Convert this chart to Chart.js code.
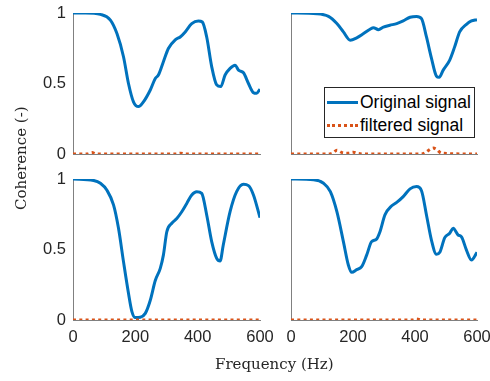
<!DOCTYPE html>
<html>
<head>
<meta charset="utf-8">
<script src="https://cdn.jsdelivr.net/npm/chart.js@4.4.1/dist/chart.umd.min.js"></script>
<style>
  body { margin: 0; background: #fff; width: 490px; height: 381px; overflow: hidden; position: relative; }
  canvas { position: absolute; }
  .lbl { position: absolute; font-family: "DejaVu Serif", serif; font-size: 15px; color: #262626; white-space: nowrap; }
  #legend { position: absolute; left: 324px; top: 87px; width: 149px; height: 49px; background: #fff;
            border: 1px solid #262626; font-family: "Liberation Sans", Arial, sans-serif; font-size: 17.5px; color: #000; }
  #legend .row { position: absolute; left: 2px; height: 22px; line-height: 22px; }
  #legend .swatch { position: absolute; left: 0; top: 10px; width: 31px; }
  #legend .txt { position: absolute; left: 33px; top: 0; white-space: nowrap; }
</style>
</head>
<body>
<canvas id="c1"></canvas>
<canvas id="c2"></canvas>
<canvas id="c3"></canvas>
<canvas id="c4"></canvas>
<div class="lbl" id="ylab" style="left:-29px; top:151px; transform: rotate(-90deg); width:100px; text-align:center;">Coherence (-)</div>
<div class="lbl" id="xlab" style="left:215px; top:355px;">Frequency (Hz)</div>
<div id="legend">
  <div class="row" style="top:3px;"><div class="swatch" style="border-top:3px solid #0072BD;"></div><span class="txt">Original signal</span></div>
  <div class="row" style="top:26px;"><div class="swatch" style="border-top:3px dotted #D95319;"></div><span class="txt">filtered signal</span></div>
</div>
<script>
// tick values
var xTicks = [0, 200, 400, 600];
var yTicks = [0, 0.5, 1];

// top left
var p1Freq = [0, 40, 88, 120, 141, 162, 178, 194, 210, 226, 248, 264, 274, 290, 306, 328, 344, 360, 381, 402, 415, 429, 445, 461, 474, 488, 504, 520, 531, 547, 563, 579, 589, 600];
var p1Orig = [1.0, 1.0, 0.99, 0.95, 0.854, 0.69, 0.50, 0.37, 0.336, 0.37, 0.454, 0.536, 0.56, 0.654, 0.748, 0.81, 0.83, 0.866, 0.925, 0.944, 0.936, 0.83, 0.62, 0.49, 0.478, 0.56, 0.607, 0.63, 0.595, 0.576, 0.50, 0.435, 0.43, 0.46];
var p1FiltFreq = [0, 45, 61, 75, 200, 330, 345, 360, 600];
var p1Filt = [0, 0, 0.01, 0, 0, 0, 0.006, 0, 0];

// top right
var p2Freq = [0, 84, 121, 148, 169, 191, 212, 234, 255, 266, 282, 298, 319, 341, 362, 384, 405, 421, 437, 453, 469, 478, 491, 512, 528, 544, 566, 582, 600];
var p2Orig = [1.0, 0.995, 0.976, 0.925, 0.866, 0.807, 0.824, 0.854, 0.885, 0.896, 0.882, 0.90, 0.913, 0.925, 0.944, 0.97, 0.976, 0.96, 0.83, 0.68, 0.553, 0.544, 0.595, 0.666, 0.76, 0.866, 0.92, 0.944, 0.953];
var p2FiltFreq = [0, 120, 135, 148, 165, 185, 201, 215, 240, 420, 435, 450, 459, 470, 485, 600];
var p2Filt = [0, 0, 0.008, 0.026, 0.01, 0.006, 0.012, 0.004, 0, 0, 0.012, 0.035, 0.042, 0.032, 0.006, 0];

// bottom left
var p3Freq = [0, 66, 88, 109, 130, 146, 162, 178, 189, 200, 216, 232, 248, 264, 280, 290, 301, 317, 333, 349, 365, 381, 397, 413, 429, 445, 461, 472, 482, 504, 525, 547, 563, 579, 600];
var p3Orig = [1.0, 0.99, 0.97, 0.92, 0.816, 0.65, 0.414, 0.19, 0.06, 0.017, 0.02, 0.047, 0.14, 0.28, 0.366, 0.46, 0.626, 0.686, 0.72, 0.768, 0.827, 0.887, 0.91, 0.898, 0.745, 0.556, 0.437, 0.418, 0.53, 0.768, 0.91, 0.962, 0.953, 0.887, 0.726];
var p3FiltFreq = [0, 600];
var p3Filt = [0, 0];

// bottom right
var p4Freq = [0, 73, 105, 127, 148, 169, 185, 196, 212, 228, 244, 260, 276, 287, 303, 325, 341, 362, 384, 405, 421, 437, 453, 469, 480, 496, 512, 523, 539, 550, 566, 582, 600];
var p4Orig = [1.0, 0.995, 0.97, 0.91, 0.768, 0.556, 0.39, 0.338, 0.357, 0.378, 0.46, 0.556, 0.574, 0.626, 0.745, 0.81, 0.834, 0.875, 0.93, 0.946, 0.917, 0.745, 0.567, 0.466, 0.48, 0.584, 0.615, 0.65, 0.603, 0.59, 0.496, 0.426, 0.48];
var p4FiltFreq = [0, 390, 405, 420, 600];
var p4Filt = [0, 0, 0.008, 0, 0];

function pts(xs, ys) {
    return xs.map(function(x, i) { return {x: x, y: ys[i]}; });
}

// chart area ends up at (left+73, top+padTop) .. (left+w-padRight, top+h-xH)
function makePanel(id, left, top, w, h, padTop, padRight, xH, freq, orig, filtFreq, filt, showX, showY) {
    var cv = document.getElementById(id);
    cv.style.left = left + 'px';
    cv.style.top = top + 'px';
    cv.width = w;
    cv.height = h;
    return new Chart(cv, {
        type: 'line',
        data: {
            datasets: [
                {
                    data: pts(freq, orig),
                    borderColor: '#0072BD',
                    borderWidth: 3,
                    pointRadius: 0,
                    cubicInterpolationMode: 'monotone',
                    order: 1
                },
                {
                    data: pts(filtFreq, filt),
                    borderColor: '#D95319',
                    borderWidth: 3,
                    borderDash: [3, 3.3],
                    pointRadius: 0,
                    cubicInterpolationMode: 'monotone',
                    order: 0
                }
            ]
        },
        options: {
            responsive: false,
            animation: false,
            layout: { padding: { top: padTop, right: padRight, bottom: 0, left: 0 } },
            plugins: { legend: { display: false }, tooltip: { enabled: false } },
            scales: {
                x: {
                    type: 'linear',
                    min: 0, max: 600,
                    afterBuildTicks: function(s) { s.ticks = xTicks.map(function(v) { return {value: v}; }); },
                    afterFit: function(s) { s.height = xH; s.paddingLeft = 0; s.paddingRight = 0; },
                    grid: { display: false, drawTicks: false },
                    border: { display: true, color: '#808080', width: 1 },
                    ticks: {
                        display: showX,
                        padding: 8,
                        color: '#262626',
                        font: { family: 'Liberation Sans', size: 16.5 },
                        maxRotation: 0,
                        callback: function(v) { return String(v); }
                    }
                },
                y: {
                    min: 0, max: 1,
                    afterBuildTicks: function(s) { s.ticks = yTicks.map(function(v) { return {value: v}; }); },
                    afterFit: function(s) { s.width = 73; s.paddingTop = 0; s.paddingBottom = 0; },
                    grid: { display: false, drawTicks: false },
                    border: { display: true, color: '#808080', width: 1 },
                    ticks: {
                        display: showY,
                        padding: 7,
                        color: '#262626',
                        font: { family: 'Liberation Sans', size: 16.5 },
                        callback: function(v) { return String(v); }
                    }
                }
            }
        }
    });
}

makePanel('c1', 0, 0, 265, 160, 13, 5, 6, p1Freq, p1Orig, p1FiltFreq, p1Filt, false, true);
makePanel('c2', 218, 0, 264, 160, 13, 5, 6, p2Freq, p2Orig, p2FiltFreq, p2Filt, false, false);
makePanel('c3', 0, 165, 282, 180, 14, 22, 25, p3Freq, p3Orig, p3FiltFreq, p3Filt, true, true);
makePanel('c4', 218, 165, 272, 180, 14, 13, 25, p4Freq, p4Orig, p4FiltFreq, p4Filt, true, false);
</script>
</body>
</html>
